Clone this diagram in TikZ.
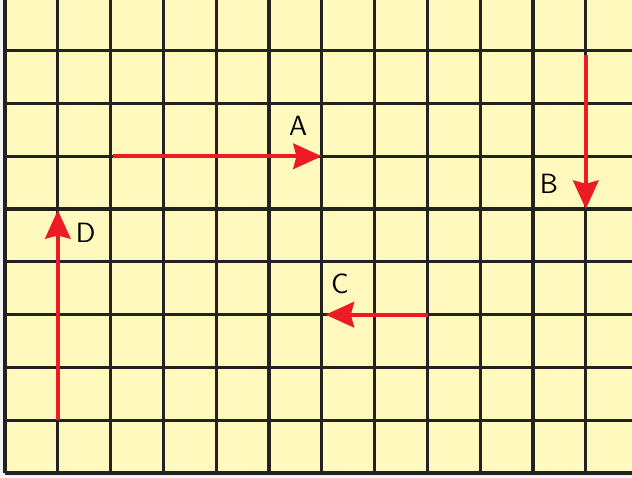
\documentclass[tikz,border=0pt]{standalone}
\usepackage{tikz}
\usetikzlibrary{arrows.meta}
\definecolor{paper}{RGB}{255,249,190}
\definecolor{gridline}{RGB}{34,34,34}
\definecolor{vecred}{RGB}{237,28,36}

\begin{document}
\begin{tikzpicture}[
    vec/.style={-{Stealth[length=5.4mm,width=4.8mm,inset=0.6mm]},line width=2.3pt,vecred},
    lbl/.style={font=\sffamily\fontsize{15}{15}\selectfont}]
    \useasboundingbox (-0.095,-0.075) rectangle (11.875,8.96);
    \fill[gray!10] (-0.095,-0.075) rectangle (11.875,8.96);

    % Paper
    \fill[paper] (0,0) rectangle (11.875,8.96);
    \draw[gridline,line width=1.7pt] (0,0) grid (11.875,8.96);
    \draw[gridline,line width=1.7pt] (0,0) -- (0,8.96);

    % Points
    \coordinate (a1) at (2.05,6);
    \coordinate (a2) at (6,6);
    \coordinate (b1) at (11,7.92);
    \coordinate (b2) at (11,5);
    \coordinate (c1) at (8.01,3);
    \coordinate (c2) at (6.07,3);
    \coordinate (d1) at (1,1);
    \coordinate (d2) at (1,4.98);

    % Labels
    \node[lbl] (la) at (5.55,6.57) {A};
    \node[lbl] (lb) at (10.3,5.47) {B};
    \node[lbl] (lc) at (6.34,3.58) {C};
    \node[lbl] (ld) at (1.53,4.55) {D};

    % Vectors
    \draw[vec] (a1) -- (a2);
    \draw[vec] (b1) -- (b2);
    \draw[vec] (c1) -- (c2);
    \draw[vec] (d1) -- (d2);
\end{tikzpicture}
\end{document}
